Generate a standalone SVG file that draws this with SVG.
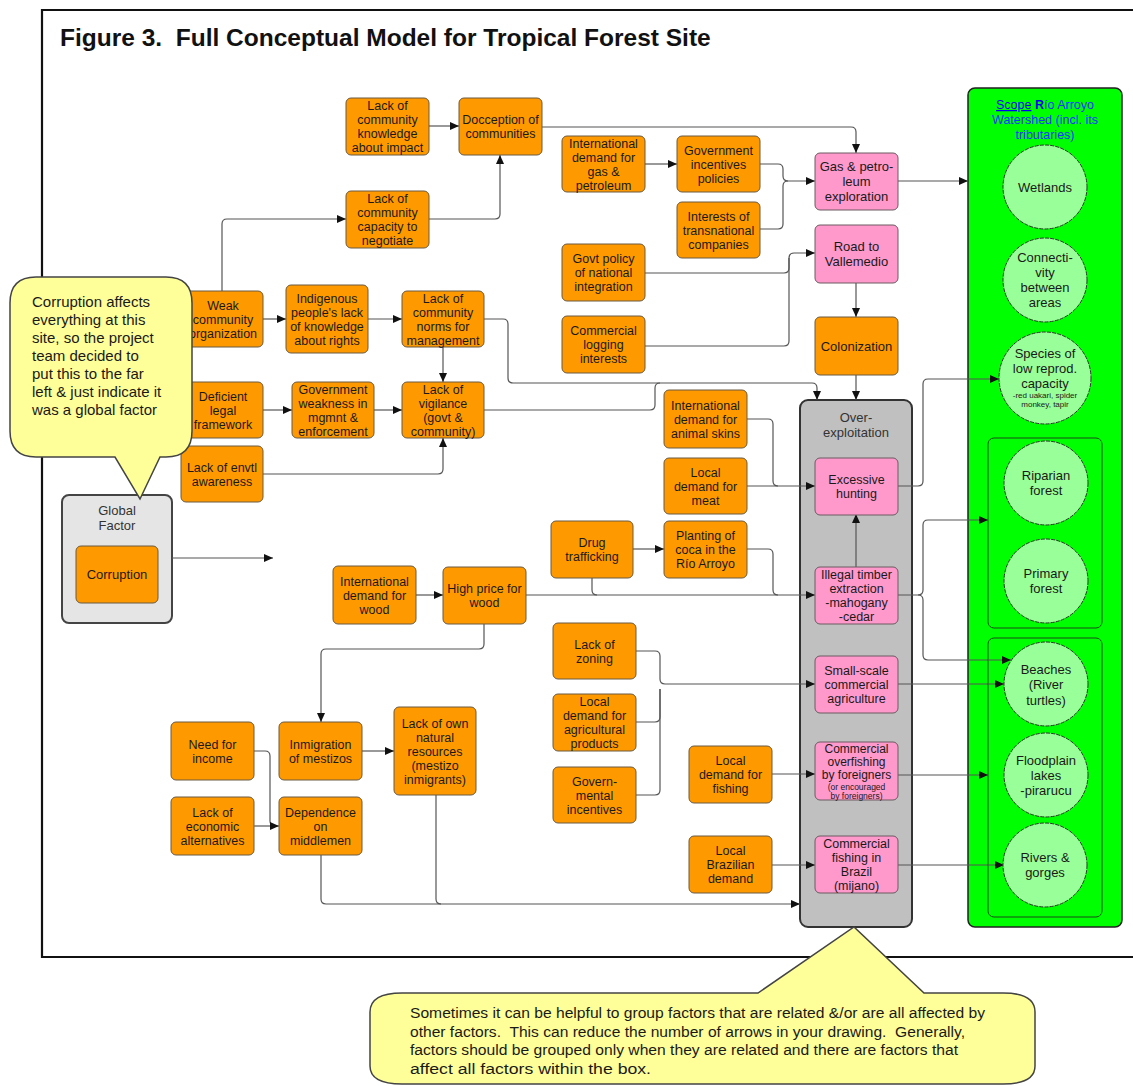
<svg xmlns="http://www.w3.org/2000/svg" width="1133" height="1086" viewBox="0 0 1133 1086">
<defs>
<marker id="ah" markerUnits="userSpaceOnUse" markerWidth="9" markerHeight="8" refX="9" refY="4" orient="auto">
<path d="M0,0 L9,4 L0,8 Z" fill="#111"/>
</marker>
<style>
text{font-family:"Liberation Sans",Arial,sans-serif;fill:#1a1a1a;text-anchor:middle;font-size:13px}
.n text{font-size:12.5px}
.o{fill:#FF9900;stroke:#6b5a40;stroke-width:1}
.p{fill:#FF99CC;stroke:#6b5a60;stroke-width:1}
.ci{fill:#99FF99;stroke:#333;stroke-width:1;stroke-dasharray:4 1.2}
.c{fill:none;stroke:#555;stroke-width:1.2}
.a{marker-end:url(#ah)}
.sm{font-size:8.5px}
.xs{font-size:8px}
.call{fill:#FFFF99;stroke:#444;stroke-width:1.5}
.ct{text-anchor:start;font-size:15px}
.bt{text-anchor:start;font-size:15.5px}
</style>
</defs>
<rect width="1133" height="1086" fill="#fff"/>
<!-- frame -->
<path d="M1140,10 H42 V957 H1140" fill="none" stroke="#111" stroke-width="2.2"/>
<text x="60" y="46" style="font-size:24.5px;font-weight:bold;text-anchor:start;white-space:pre;fill:#111">Figure 3.  Full Conceptual Model for Tropical Forest Site</text>

<!-- group containers -->
<g id="overexploitation">
<rect x="800" y="400" width="112" height="527" rx="8" fill="#C0C0C0" stroke="#333" stroke-width="2"/>
<text x="856" y="421.5" style="fill:#333">Over-</text>
<text x="856" y="436.5" style="fill:#333">exploitation</text>
</g>
<g id="scope">
<rect x="968" y="88" width="154" height="839" rx="7" fill="#00FF00" stroke="#222" stroke-width="1.5"/>
<text x="1045" y="109" style="font-size:12.5px;fill:#1a33ff"><tspan style="fill:#0000EE;text-decoration:underline">Scope</tspan> <tspan style="font-weight:bold;fill:#0000EE">R</tspan>ío Arroyo</text>
<text x="1045" y="124" style="font-size:12.5px;fill:#1a33ff">Watershed (incl. its</text>
<text x="1045" y="139" style="font-size:12.5px;fill:#1a33ff">tributaries)</text>
<rect x="988" y="438" width="114" height="190" rx="6" fill="#00FF00" stroke="#1a4a1a" stroke-width="1"/>
<rect x="988" y="638" width="114" height="279" rx="6" fill="#00FF00" stroke="#1a4a1a" stroke-width="1"/>
</g>
<g id="globalfactor">
<rect x="62" y="495" width="110" height="128" rx="7" fill="#E5E5E5" stroke="#444" stroke-width="2"/>
<text x="117" y="514.5" style="fill:#333">Global</text>
<text x="117" y="529.5" style="fill:#333">Factor</text>
</g>

<!-- connectors -->
<g id="connectors">
<path class="c a" d="M429,126 H459"/>
<path class="c a" d="M429,219 H495 Q500,219 500,214 V155"/>
<path class="c a" d="M222,291 V224 Q222,219 227,219 H346"/>
<path class="c a" d="M542,127 H851 Q856,127 856,132 V153"/>
<path class="c a" d="M645,164 H677"/>
<path class="c a" d="M760,164 H778 Q783,164 783,169 V176 Q783,181 788,181 H815"/>
<path class="c" d="M760,229 H778 Q783,229 783,224 V186 Q783,181 788,181"/>
<path class="c a" d="M898,181 H968"/>
<path class="c a" d="M645,273 H784 Q789,273 789,268 V258 Q789,253 794,253 H815"/>
<path class="c" d="M645,346 H784 Q789,346 789,341 V258"/>
<path class="c a" d="M856,283 V317"/>
<path class="c a" d="M856,375 V400"/>
<path class="c a" d="M484,319 H503 Q508,319 508,324 V378 Q508,383 513,383 H812 Q817,383 817,388 V400"/>
<path class="c" d="M484,410 H650 Q655,410 655,405 V388 Q655,383 660,383"/>
<path class="c a" d="M263,319 H286"/>
<path class="c a" d="M368,319 H402"/>
<path class="c a" d="M263,410 H292"/>
<path class="c a" d="M374,410 H402"/>
<path class="c a" d="M443,347 V382"/>
<path class="c a" d="M263,474 H438 Q443,474 443,469 V438"/>
<path class="c a" d="M172,558 H273"/>
<path class="c" d="M747,419 H768 Q773,419 773,424 V481 Q773,486 778,486"/>
<path class="c a" d="M747,486 H815"/>
<path class="c a" d="M633,549 H664"/>
<path class="c" d="M747,549 H768 Q773,549 773,554 V590 Q773,595 778,595"/>
<path class="c a" d="M416,595 H443"/>
<path class="c a" d="M526,595 H815"/>
<path class="c" d="M592,578 V590 Q592,595 597,595"/>
<path class="c a" d="M484,624 V644 Q484,649 479,649 H326 Q321,649 321,654 V722"/>
<path class="c a" d="M362,751 H394"/>
<path class="c" d="M254,751 H265 Q270,751 270,756 V821 Q270,826 275,826"/>
<path class="c a" d="M254,826 H279"/>
<path class="c a" d="M321,855 V899 Q321,904 326,904 H800"/>
<path class="c" d="M436,795 V899 Q436,904 441,904"/>
<path class="c a" d="M636,651 H655 Q660,651 660,656 V679 Q660,684 665,684 H815"/>
<path class="c" d="M636,722 H655 Q660,722 660,717 V689"/>
<path class="c" d="M636,795 H655 Q660,795 660,790 V689"/>
<path class="c a" d="M772,774 H815"/>
<path class="c a" d="M772,865 H815"/>
<path class="c a" d="M856,567 V514"/>
<path class="c a" d="M898,486 H918 Q923,486 923,481 V384 Q923,379 928,379 H999"/>
<path class="c a" d="M898,595 H918 Q923,595 923,590 V525 Q923,520 928,520 H988"/>
<path class="c a" d="M918,595 Q923,595 923,600 V655 Q923,660 928,660 H1011"/>
<path class="c a" d="M898,684 H1004"/>
<path class="c a" d="M898,775 H988"/>
<path class="c a" d="M898,865 H1004"/>
</g>

<!-- nodes -->
<g class="n">
<g id="n-know"><rect class="o" x="346" y="98" width="83" height="57" rx="5"/><text x="387.5" y="110"><tspan x="387.5">Lack of</tspan><tspan x="387.5" dy="14">community</tspan><tspan x="387.5" dy="14">knowledge</tspan><tspan x="387.5" dy="14">about impact</tspan></text></g>
<g id="n-decep"><rect class="o" x="459" y="98" width="83" height="57" rx="5"/><text x="500.5" y="124"><tspan x="500.5">Docception of</tspan><tspan x="500.5" dy="14">communities</tspan></text></g>
<g id="n-capac"><rect class="o" x="346" y="191" width="83" height="57" rx="5"/><text x="387.5" y="203"><tspan x="387.5">Lack of</tspan><tspan x="387.5" dy="14">community</tspan><tspan x="387.5" dy="14">capacity to</tspan><tspan x="387.5" dy="14">negotiate</tspan></text></g>
<g id="n-gasdem"><rect class="o" x="562" y="136" width="83" height="56" rx="5"/><text x="603.5" y="147.5"><tspan x="603.5">International</tspan><tspan x="603.5" dy="14">demand for</tspan><tspan x="603.5" dy="14">gas &amp;</tspan><tspan x="603.5" dy="14">petroleum</tspan></text></g>
<g id="n-govinc"><rect class="o" x="677" y="136" width="83" height="56" rx="5"/><text x="718.5" y="154.5"><tspan x="718.5">Government</tspan><tspan x="718.5" dy="14">incentives</tspan><tspan x="718.5" dy="14">policies</tspan></text></g>
<g id="n-trans"><rect class="o" x="677" y="202" width="83" height="56" rx="5"/><text x="718.5" y="220.5"><tspan x="718.5">Interests of</tspan><tspan x="718.5" dy="14">transnational</tspan><tspan x="718.5" dy="14">companies</tspan></text></g>
<g id="n-govpol"><rect class="o" x="562" y="244" width="83" height="57" rx="5"/><text x="603.5" y="263"><tspan x="603.5">Govt policy</tspan><tspan x="603.5" dy="14">of national</tspan><tspan x="603.5" dy="14">integration</tspan></text></g>
<g id="n-logging"><rect class="o" x="562" y="316" width="83" height="57" rx="5"/><text x="603.5" y="335"><tspan x="603.5">Commercial</tspan><tspan x="603.5" dy="14">logging</tspan><tspan x="603.5" dy="14">interests</tspan></text></g>
<g id="n-gasexp"><rect class="p" x="815" y="153" width="83" height="57" rx="5"/><text x="856.5" y="170.5" style="font-size:13px"><tspan x="856.5">Gas &amp; petro-</tspan><tspan x="856.5" dy="15">leum</tspan><tspan x="856.5" dy="15">exploration</tspan></text></g>
<g id="n-road"><rect class="p" x="815" y="225" width="83" height="58" rx="5"/><text x="856.5" y="250.5" style="font-size:13px"><tspan x="856.5">Road to</tspan><tspan x="856.5" dy="15">Vallemedio</tspan></text></g>
<g id="n-colon"><rect class="o" x="815" y="317" width="83" height="58" rx="5"/><text x="856.5" y="350.5" style="font-size:13px">Colonization</text></g>
<g id="n-weak"><rect class="o" x="181" y="291" width="82" height="56" rx="5"/><text x="223" y="309.5"><tspan x="223">Weak</tspan><tspan x="223" dy="14">community</tspan><tspan x="223" dy="14">organization</tspan></text></g>
<g id="n-indig"><rect class="o" x="286" y="285" width="82" height="68" rx="5"/><text x="327" y="302.5"><tspan x="327">Indigenous</tspan><tspan x="327" dy="14">people's lack</tspan><tspan x="327" dy="14">of knowledge</tspan><tspan x="327" dy="14">about rights</tspan></text></g>
<g id="n-norms"><rect class="o" x="402" y="291" width="82" height="56" rx="5"/><text x="443" y="302.5"><tspan x="443">Lack of</tspan><tspan x="443" dy="14">community</tspan><tspan x="443" dy="14">norms for</tspan><tspan x="443" dy="14">management</tspan></text></g>
<g id="n-deficient"><rect class="o" x="181" y="382" width="82" height="56" rx="5"/><text x="223" y="400.5"><tspan x="223">Deficient</tspan><tspan x="223" dy="14">legal</tspan><tspan x="223" dy="14">framework</tspan></text></g>
<g id="n-govweak"><rect class="o" x="292" y="382" width="82" height="56" rx="5"/><text x="333" y="393.5"><tspan x="333">Government</tspan><tspan x="333" dy="14">weakness in</tspan><tspan x="333" dy="14">mgmnt &amp;</tspan><tspan x="333" dy="14">enforcement</tspan></text></g>
<g id="n-vigil"><rect class="o" x="402" y="382" width="82" height="56" rx="5"/><text x="443" y="393.5"><tspan x="443">Lack of</tspan><tspan x="443" dy="14">vigilance</tspan><tspan x="443" dy="14">(govt &amp;</tspan><tspan x="443" dy="14">community)</tspan></text></g>
<g id="n-envtl"><rect class="o" x="181" y="446" width="82" height="56" rx="5"/><text x="222" y="471.5"><tspan x="222">Lack of envtl</tspan><tspan x="222" dy="14">awareness</tspan></text></g>
<g id="n-corruption"><rect class="o" x="76" y="546" width="82" height="57" rx="5"/><text x="117" y="579" style="font-size:13px">Corruption</text></g>
<g id="n-skins"><rect class="o" x="664" y="390" width="83" height="58" rx="5"/><text x="705.5" y="409.5"><tspan x="705.5">International</tspan><tspan x="705.5" dy="14">demand for</tspan><tspan x="705.5" dy="14">animal skins</tspan></text></g>
<g id="n-meat"><rect class="o" x="664" y="458" width="83" height="56" rx="5"/><text x="705.5" y="476.5"><tspan x="705.5">Local</tspan><tspan x="705.5" dy="14">demand for</tspan><tspan x="705.5" dy="14">meat</tspan></text></g>
<g id="n-drug"><rect class="o" x="551" y="521" width="82" height="57" rx="5"/><text x="592" y="547"><tspan x="592">Drug</tspan><tspan x="592" dy="14">trafficking</tspan></text></g>
<g id="n-coca"><rect class="o" x="664" y="521" width="83" height="57" rx="5"/><text x="705.5" y="540"><tspan x="705.5">Planting of</tspan><tspan x="705.5" dy="14">coca in the</tspan><tspan x="705.5" dy="14">Río Arroyo</tspan></text></g>
<g id="n-wooddem"><rect class="o" x="333" y="566" width="83" height="58" rx="5"/><text x="374.5" y="585.5"><tspan x="374.5">International</tspan><tspan x="374.5" dy="14">demand for</tspan><tspan x="374.5" dy="14">wood</tspan></text></g>
<g id="n-highprice"><rect class="o" x="443" y="567" width="83" height="57" rx="5"/><text x="484.5" y="593"><tspan x="484.5">High price for</tspan><tspan x="484.5" dy="14">wood</tspan></text></g>
<g id="n-hunting"><rect class="p" x="815" y="458" width="83" height="57" rx="5"/><text x="856.5" y="484"><tspan x="856.5">Excessive</tspan><tspan x="856.5" dy="14">hunting</tspan></text></g>
<g id="n-timber"><rect class="p" x="815" y="567" width="83" height="57" rx="5"/><text x="856.5" y="579"><tspan x="856.5">Illegal timber</tspan><tspan x="856.5" dy="14">extraction</tspan><tspan x="856.5" dy="14">-mahogany</tspan><tspan x="856.5" dy="14">-cedar</tspan></text></g>
<g id="n-agric"><rect class="p" x="815" y="656" width="83" height="57" rx="5"/><text x="856.5" y="675"><tspan x="856.5">Small-scale</tspan><tspan x="856.5" dy="14">commercial</tspan><tspan x="856.5" dy="14">agriculture</tspan></text></g>
<g id="n-overfish"><rect class="p" x="815" y="742" width="83" height="58" rx="5"/><text x="856.5" y="752.5" style="font-size:12px"><tspan x="856.5">Commercial</tspan><tspan x="856.5" dy="13.4">overfishing</tspan><tspan x="856.5" dy="13.4">by foreigners</tspan><tspan x="856.5" dy="10.3" class="sm">(or encouraged</tspan><tspan x="856.5" dy="9.5" class="sm">by foreigners)</tspan></text></g>
<g id="n-brazil"><rect class="p" x="815" y="836" width="83" height="57" rx="5"/><text x="856.5" y="848"><tspan x="856.5">Commercial</tspan><tspan x="856.5" dy="14">fishing in</tspan><tspan x="856.5" dy="14">Brazil</tspan><tspan x="856.5" dy="14">(mijano)</tspan></text></g>
<g id="n-zoning"><rect class="o" x="553" y="623" width="83" height="56" rx="5"/><text x="594.5" y="648.5"><tspan x="594.5">Lack of</tspan><tspan x="594.5" dy="14">zoning</tspan></text></g>
<g id="n-agridem"><rect class="o" x="553" y="694" width="83" height="57" rx="5"/><text x="594.5" y="706"><tspan x="594.5">Local</tspan><tspan x="594.5" dy="14">demand for</tspan><tspan x="594.5" dy="14">agricultural</tspan><tspan x="594.5" dy="14">products</tspan></text></g>
<g id="n-govern"><rect class="o" x="553" y="767" width="83" height="56" rx="5"/><text x="594.5" y="785.5"><tspan x="594.5">Govern-</tspan><tspan x="594.5" dy="14">mental</tspan><tspan x="594.5" dy="14">incentives</tspan></text></g>
<g id="n-fishdem"><rect class="o" x="689" y="746" width="83" height="57" rx="5"/><text x="730.5" y="765"><tspan x="730.5">Local</tspan><tspan x="730.5" dy="14">demand for</tspan><tspan x="730.5" dy="14">fishing</tspan></text></g>
<g id="n-brazdem"><rect class="o" x="689" y="836" width="83" height="57" rx="5"/><text x="730.5" y="855"><tspan x="730.5">Local</tspan><tspan x="730.5" dy="14">Brazilian</tspan><tspan x="730.5" dy="14">demand</tspan></text></g>
<g id="n-income"><rect class="o" x="171" y="722" width="83" height="58" rx="5"/><text x="212.5" y="748.5"><tspan x="212.5">Need for</tspan><tspan x="212.5" dy="14">income</tspan></text></g>
<g id="n-econ"><rect class="o" x="171" y="797" width="83" height="58" rx="5"/><text x="212.5" y="816.5"><tspan x="212.5">Lack of</tspan><tspan x="212.5" dy="14">economic</tspan><tspan x="212.5" dy="14">alternatives</tspan></text></g>
<g id="n-inmig"><rect class="o" x="279" y="722" width="83" height="58" rx="5"/><text x="320.5" y="748.5"><tspan x="320.5">Inmigration</tspan><tspan x="320.5" dy="14">of mestizos</tspan></text></g>
<g id="n-depend"><rect class="o" x="279" y="797" width="83" height="58" rx="5"/><text x="320.5" y="816.5"><tspan x="320.5">Dependence</tspan><tspan x="320.5" dy="14">on</tspan><tspan x="320.5" dy="14">middlemen</tspan></text></g>
<g id="n-ownres"><rect class="o" x="394" y="707" width="82" height="88" rx="5"/><text x="435" y="727.5"><tspan x="435">Lack of own</tspan><tspan x="435" dy="14">natural</tspan><tspan x="435" dy="14">resources</tspan><tspan x="435" dy="14">(mestizo</tspan><tspan x="435" dy="14">inmigrants)</tspan></text></g>
</g>

<!-- targets -->
<g id="t-wetlands"><circle class="ci" cx="1045" cy="187" r="42"/><text x="1045" y="191.5">Wetlands</text></g>
<g id="t-connect"><circle class="ci" cx="1045" cy="280" r="42"/><text x="1045" y="261.5"><tspan x="1045">Connecti-</tspan><tspan x="1045" dy="15.3">vity</tspan><tspan x="1045" dy="15.3">between</tspan><tspan x="1045" dy="15.3">areas</tspan></text></g>
<g id="t-species"><circle class="ci" cx="1045" cy="378" r="46"/><text x="1045" y="357.5"><tspan x="1045">Species of</tspan><tspan x="1045" dy="15">low reprod.</tspan><tspan x="1045" dy="15">capacity</tspan><tspan x="1045" dy="10.2" class="xs">-red uakari, spider</tspan><tspan x="1045" dy="9.2" class="xs">monkey, tapir</tspan></text></g>
<g id="t-riparian"><circle class="ci" cx="1046" cy="483" r="42"/><text x="1046" y="479.5"><tspan x="1046">Riparian</tspan><tspan x="1046" dy="15">forest</tspan></text></g>
<g id="t-primary"><circle class="ci" cx="1046" cy="581" r="42"/><text x="1046" y="577.5"><tspan x="1046">Primary</tspan><tspan x="1046" dy="15">forest</tspan></text></g>
<g id="t-beaches"><circle class="ci" cx="1046" cy="684" r="42"/><text x="1046" y="673.5"><tspan x="1046">Beaches</tspan><tspan x="1046" dy="15.5">(River</tspan><tspan x="1046" dy="15.5">turtles)</tspan></text></g>
<g id="t-floodplain"><circle class="ci" cx="1046" cy="775" r="42"/><text x="1046" y="764.5"><tspan x="1046">Floodplain</tspan><tspan x="1046" dy="15">lakes</tspan><tspan x="1046" dy="15">-pirarucu</tspan></text></g>
<g id="t-rivers"><circle class="ci" cx="1045" cy="865" r="42"/><text x="1045" y="861.5"><tspan x="1045">Rivers &amp;</tspan><tspan x="1045" dy="15">gorges</tspan></text></g>

<!-- callouts -->
<g id="callout-left">
<path class="call" d="M36,277 H166 Q192,277 192,303 V431 Q192,457 166,457 H160 L140,499 L115,457 H36 Q10,457 10,431 V303 Q10,277 36,277 Z"/>
<text class="ct" x="32" y="307">Corruption affects</text>
<text class="ct" x="32" y="325">everything at this</text>
<text class="ct" x="32" y="343">site, so the project</text>
<text class="ct" x="32" y="361">team decided to</text>
<text class="ct" x="32" y="379">put this to the far</text>
<text class="ct" x="32" y="397">left &amp; just indicate it</text>
<text class="ct" x="32" y="415">was a global factor</text>
</g>
<g id="callout-bottom">
<path class="call" d="M402,993 H758 L854,927 L924,993 H1003 Q1035,993 1035,1012 V1066 Q1035,1084 1003,1084 H402 Q370,1084 370,1066 V1012 Q370,993 402,993 Z"/>
<text class="bt" x="410" y="1018" textLength="575" lengthAdjust="spacingAndGlyphs">Sometimes it can be helpful to group factors that are related &amp;/or are all affected by</text>
<text class="bt" x="410" y="1036.5" style="white-space:pre" textLength="555" lengthAdjust="spacingAndGlyphs">other factors.  This can reduce the number of arrows in your drawing.  Generally,</text>
<text class="bt" x="410" y="1055" textLength="548" lengthAdjust="spacingAndGlyphs">factors should be grouped only when they are related and there are factors that</text>
<text class="bt" x="410" y="1073.5" textLength="241" lengthAdjust="spacingAndGlyphs">affect all factors within the box.</text>
</g>
</svg>
